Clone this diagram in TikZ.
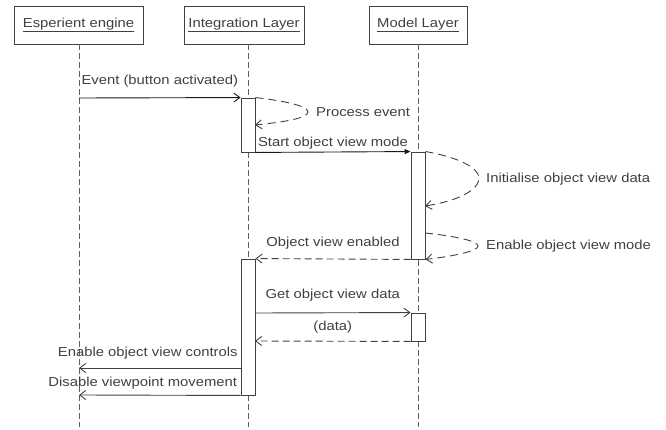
\documentclass[tikz,border=0pt]{standalone}
\usepackage{fontspec}
\setmainfont[FakeStretch=1.14]{Liberation Sans}
\usetikzlibrary{arrows.meta, calc}
\definecolor{seqgray}{RGB}{64, 64, 64}
\definecolor{lifegray}{RGB}{95, 95, 95}

\begin{document}
\begin{tikzpicture}[x=1pt, y=-1pt,
  hdbox/.style={draw=seqgray, fill=white, line width=0.9pt, minimum height=38pt, inner sep=0pt, font=\fontsize{13}{15}\selectfont, text=seqgray},
  life/.style={draw=lifegray, line width=0.9pt, dash pattern=on 6pt off 3pt},
  actbar/.style={draw=seqgray, fill=white, line width=0.9pt, minimum width=14pt, inner sep=0pt},
  msg/.style={draw=seqgray, line width=0.9pt, -{Straight Barb[length=6pt, width=9pt]}},
  syncmsg/.style={draw=black!90, line width=0.9pt, -{Triangle[length=6pt, width=5pt]}},
  retmsg/.style={msg, dash pattern=on 7pt off 4pt},
  selfmsg/.style={msg, dash pattern=on 8pt off 5pt},
  lbl/.style={font=\fontsize{13}{15}\selectfont, text=seqgray, inner sep=0pt}
]
  \useasboundingbox (0,0) rectangle (666,430);

  \node[hdbox, minimum width=129pt] (eng) at (78.5,25) {\underline{Esperient engine}};
  \node[hdbox, minimum width=120pt] (intg) at (244,25) {\underline{Integration Layer}};
  \node[hdbox, minimum width=98pt] (mdl) at (418,25) {\underline{Model Layer}};

  \foreach \n/\x in {eng/79, intg/248, mdl/418} {
    \coordinate (\n-top) at (\x,44);
    \coordinate (\n-bot) at (\x,427);
    \draw[life] (\n-top) -- (\n-bot);
  }

  \node[actbar, minimum height=54pt] (act1) at (248,125) {};
  \node[actbar, minimum height=107pt] (act2) at (418,205.5) {};
  \node[actbar, minimum height=136pt] (act3) at (248,327) {};
  \node[actbar, minimum height=28pt] (act4) at (418,327) {};

  \coordinate (ev) at (79,98);
  \coordinate (pe-tip) at (308,112);
  \coordinate (pe-end) at (255,125);
  \coordinate (init-tip) at (479,178);
  \coordinate (init-end) at (425,206);
  \coordinate (mode-start) at (425,233);
  \coordinate (mode-tip) at (478,246);
  \coordinate (get-start) at (255,313);
  \coordinate (data-end) at (255,341);
  \coordinate (ctrl-start) at (241,368);
  \coordinate (ctrl-end) at (79,368);
  \coordinate (move-end) at (79,395);

  \draw[msg, draw=black!90] (ev) -- (act1.north west)
    node[lbl, midway, anchor=base, yshift=13.5pt] {Event (button activated)};
  \draw[selfmsg] (act1.north east) .. controls (285,101) and (308,106) .. (pe-tip)
    .. controls (308,118) and (285,122) .. (pe-end);
  \node[lbl, anchor=west] (pe) at (316,112) {Process event};

  \draw[syncmsg] (act1.south east) -- (act2.north west)
    node[lbl, midway, anchor=base, yshift=5pt] {Start object view mode};
  \draw[selfmsg] (act2.north east) .. controls (458,157) and (479,168) .. (init-tip)
    .. controls (479,190) and (458,201) .. (init-end);
  \node[lbl, anchor=west] (init) at (486,179) {Initialise object view data};
  \draw[selfmsg] (mode-start) .. controls (455,236) and (478,241) .. (mode-tip)
    .. controls (478,251) and (455,256) .. (act2.south east);
  \node[lbl, anchor=west] (mode) at (486,246) {Enable object view mode};

  \draw[retmsg] (act2.south west) -- (act3.north east)
    node[lbl, midway, anchor=base, yshift=12pt] {Object view enabled};
  \draw[msg] (get-start) -- (act4.north west)
    node[lbl, midway, anchor=base, yshift=14pt] {Get object view data};
  \draw[retmsg] (act4.south west) -- (data-end)
    node[lbl, midway, anchor=base, yshift=11pt] {(data)};

  \draw[msg] (ctrl-start) -- (ctrl-end)
    node[lbl, pos=0, anchor=base east, xshift=-3pt, yshift=12pt] {Enable object view controls};
  \draw[msg] (act3.south west) -- (move-end)
    node[lbl, pos=0, anchor=base east, xshift=-3pt, yshift=9pt] {Disable viewpoint movement};
\end{tikzpicture}
\end{document}
